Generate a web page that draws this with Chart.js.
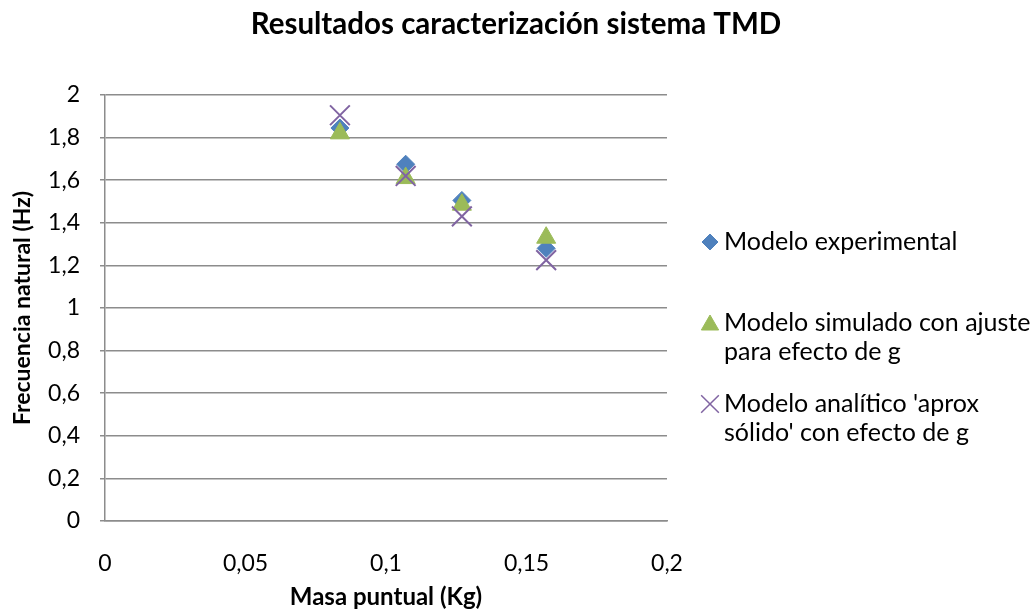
<!DOCTYPE html>
<html>
<head>
<meta charset="utf-8">
<script src="https://cdn.jsdelivr.net/npm/chart.js@4/dist/chart.umd.min.js"></script>
<style>
  html, body { margin: 0; padding: 0; background: #fff; }
  #wrap { width: 1032px; height: 612px; }
</style>
</head>
<body>
<div id="wrap"><canvas id="tmdChart" width="1032" height="612"></canvas></div>
<script>
// Resultados caracterización sistema TMD
const masa = [0.0836, 0.107, 0.127, 0.157];
const experimental = [1.845, 1.675, 1.505, 1.28];
const simulado = [1.82, 1.61, 1.485, 1.33];
const analitico = [1.905, 1.62, 1.43, 1.225];

const chartTitle = 'Resultados caracterización sistema TMD';
const seriesNames = [
  ['Modelo experimental'],
  ['Modelo simulado con ajuste', 'para efecto de g'],
  ["Modelo analítico 'aprox", "sólido' con efecto de g"]
];
const yTicks = [0, 0.2, 0.4, 0.6, 0.8, 1, 1.2, 1.4, 1.6, 1.8, 2];
const xTicks = [0, 0.05, 0.1, 0.15, 0.2];

const FONT = 'Lato, "Open Sans", sans-serif';
const COL_EXP = '#4F81BD';
const COL_SIM = '#9BBB59';
const COL_ANA = '#8064A2';
const GRID = '#8C8C8C';

const comma = v => String(+(+v).toFixed(2)).replace('.', ',');
const toPts = ys => masa.map((x, i) => ({ x, y: ys[i] }));

// ── Title and right-hand legend, drawn on the canvas ─────────────
const decor = {
  id: 'decor',
  afterDraw(chart) {
    const ctx = chart.ctx;
    ctx.save();
    ctx.fillStyle = '#000';
    ctx.font = 'bold 29.5px ' + FONT;
    ctx.textAlign = 'center';
    ctx.textBaseline = 'alphabetic';
    ctx.fillText(chartTitle, 516, 34);

    const items = [
      { style: 'rectRot', color: COL_EXP, r: 8, lw: 1, y: 242 },
      { style: 'triangle', color: COL_SIM, r: 10, lw: 1, y: 323 },
      { style: 'crossRot', color: COL_ANA, r: 12.5, lw: 1.5, y: 404 }
    ];
    ctx.textAlign = 'left';
    ctx.textBaseline = 'middle';
    ctx.font = '25px ' + FONT;
    items.forEach((it, i) => {
      ctx.fillStyle = it.color;
      ctx.strokeStyle = it.color;
      ctx.lineWidth = it.lw;
      const my = it.y + (it.style === 'triangle' ? 2 : 0);
      Chart.helpers.drawPoint(ctx, { pointStyle: it.style, radius: it.r, borderWidth: it.lw, rotation: 0 }, 710, my);
      ctx.fillStyle = '#000';
      seriesNames[i].forEach((line, k) => ctx.fillText(line, 724, it.y + k * 29));
    });
    ctx.restore();
  }
};

const ctx = document.getElementById('tmdChart').getContext('2d');
new Chart(ctx, {
  type: 'scatter',
  data: {
    datasets: [
      { label: seriesNames[0].join(' '), data: toPts(experimental), pointStyle: 'rectRot', pointRadius: 9, pointHoverRadius: 9,
        backgroundColor: COL_EXP, borderColor: COL_EXP, borderWidth: 1, order: 3 },
      { label: seriesNames[1].join(' '), data: toPts(simulado), pointStyle: 'triangle', pointRadius: 11, pointHoverRadius: 11,
        backgroundColor: COL_SIM, borderColor: COL_SIM, borderWidth: 1, order: 2 },
      { label: seriesNames[2].join(' '), data: toPts(analitico), pointStyle: 'crossRot', pointRadius: 14, pointHoverRadius: 14,
        backgroundColor: COL_ANA, borderColor: COL_ANA, borderWidth: 2, order: 1 }
    ]
  },
  options: {
    responsive: false,
    animation: false,
    layout: { padding: { left: 0, right: 365, top: 95, bottom: 0 } },
    plugins: {
      legend: { display: false },
      tooltip: { enabled: false },
      title: { display: false }
    },
    scales: {
      x: {
        type: 'linear',
        min: 0, max: 0.2,
        afterBuildTicks: s => { s.ticks = xTicks.map(v => ({ value: v })); },
        afterFit: s => { s.height = 91; },
        ticks: { color: '#000', font: { family: FONT, size: 23 }, padding: 21, callback: comma, maxRotation: 0 },
        grid: { display: false },
        border: { display: true, color: GRID, width: 1.5 },
        title: { display: true, text: 'Masa puntual (Kg)', color: '#000',
          font: { family: FONT, size: 24, weight: 'bold' }, padding: { top: 0, bottom: 0 } }
      },
      y: {
        type: 'linear',
        min: 0, max: 2,
        afterBuildTicks: s => { s.ticks = yTicks.map(v => ({ value: v })); },
        afterFit: s => { s.width = 105; },
        ticks: { color: '#000', font: { family: FONT, size: 23 }, padding: 20, callback: comma },
        grid: { color: GRID, lineWidth: 1.5, tickLength: 5, drawTicks: true },
        border: { display: true, color: GRID, width: 1.5 },
        title: { display: true, text: 'Frecuencia natural (Hz)', color: '#000',
          font: { family: FONT, size: 23, weight: 'bold' }, padding: { top: 9, bottom: 0 } }
      }
    }
  },
  plugins: [decor]
});
</script>
</body>
</html>
